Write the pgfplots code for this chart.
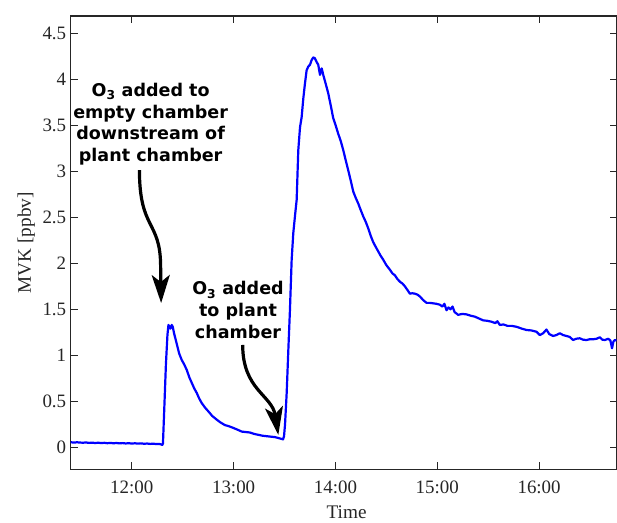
\documentclass[border=0pt]{standalone}
\usepackage{fontspec}
\setmainfont{Liberation Serif}
\newfontfamily\annfont{DejaVu Sans}
\usepackage{pgfplots}
\usepackage{pgfplotstable}
\pgfplotsset{compat=1.18}
\usetikzlibrary{arrows.meta}
\definecolor{axgray}{rgb}{0.15,0.15,0.15}

% MVK mixing ratio, time in decimal hours
\pgfplotstableread{
t v
11.400 0.055
11.430 0.050
11.460 0.054
11.490 0.051
11.520 0.049
11.550 0.052
11.580 0.047
11.610 0.050
11.640 0.046
11.670 0.049
11.700 0.045
11.730 0.048
11.760 0.044
11.790 0.047
11.820 0.043
11.850 0.046
11.880 0.042
11.910 0.045
11.940 0.041
11.970 0.044
12.000 0.040
12.030 0.043
12.060 0.039
12.090 0.042
12.120 0.038
12.150 0.040
12.180 0.036
12.210 0.039
12.240 0.034
12.270 0.036
12.290 0.030
12.300 0.025
12.306 0.040
12.320 0.45
12.335 0.90
12.350 1.22
12.360 1.33
12.370 1.31
12.380 1.29
12.392 1.33
12.402 1.31
12.415 1.24
12.440 1.13
12.465 1.02
12.490 0.95
12.515 0.90
12.540 0.84
12.565 0.76
12.589 0.70
12.613 0.64
12.638 0.59
12.662 0.53
12.687 0.48
12.720 0.43
12.752 0.39
12.790 0.34
12.834 0.30
12.870 0.27
12.916 0.24
12.950 0.23
12.997 0.21
13.040 0.19
13.080 0.17
13.120 0.165
13.161 0.16
13.200 0.145
13.243 0.135
13.285 0.125
13.325 0.12
13.365 0.115
13.406 0.11
13.440 0.10
13.472 0.09
13.485 0.085
13.495 0.12
13.505 0.25
13.521 0.59
13.537 1.05
13.553 1.49
13.570 2.04
13.586 2.33
13.603 2.52
13.619 2.69
13.635 3.23
13.652 3.48
13.668 3.59
13.685 3.80
13.701 3.96
13.717 4.10
13.733 4.14
13.750 4.16
13.766 4.21
13.782 4.24
13.798 4.23
13.815 4.19
13.831 4.16
13.848 4.05
13.865 4.12
13.880 4.05
13.905 3.95
13.929 3.85
13.955 3.71
13.978 3.58
14.002 3.50
14.027 3.41
14.052 3.33
14.077 3.23
14.101 3.12
14.126 3.01
14.150 2.90
14.175 2.78
14.200 2.71
14.224 2.65
14.248 2.58
14.273 2.51
14.298 2.45
14.322 2.38
14.346 2.30
14.371 2.23
14.395 2.18
14.420 2.13
14.445 2.08
14.469 2.04
14.500 1.98
14.535 1.93
14.560 1.89
14.584 1.87
14.608 1.83
14.633 1.80
14.658 1.78
14.682 1.75
14.707 1.71
14.731 1.67
14.755 1.675
14.780 1.67
14.805 1.66
14.829 1.64
14.862 1.60
14.895 1.57
14.928 1.57
14.960 1.565
14.992 1.56
15.025 1.55
15.050 1.53
15.070 1.56
15.091 1.49
15.110 1.52
15.130 1.50
15.150 1.53
15.170 1.47
15.205 1.44
15.245 1.45
15.287 1.445
15.330 1.43
15.369 1.42
15.410 1.40
15.450 1.38
15.490 1.375
15.532 1.365
15.570 1.35
15.590 1.37
15.614 1.33
15.650 1.335
15.690 1.32
15.730 1.32
15.778 1.31
15.830 1.29
15.876 1.275
15.925 1.27
15.974 1.256
16.007 1.22
16.040 1.24
16.072 1.28
16.100 1.23
16.137 1.21
16.170 1.22
16.203 1.24
16.235 1.22
16.269 1.21
16.300 1.20
16.334 1.166
16.365 1.18
16.399 1.185
16.430 1.17
16.465 1.166
16.500 1.175
16.530 1.174
16.565 1.18
16.596 1.196
16.620 1.17
16.645 1.166
16.680 1.18
16.700 1.16
16.716 1.076
16.730 1.15
16.743 1.166
16.760 1.16
}\mvk

\begin{document}
\begin{tikzpicture}
\begin{axis}[
    at={(0,0)}, anchor=south west, scale only axis,
    width=545.8bp, height=453.3bp,
    xmin=11.40, xmax=16.76, ymin=-0.24, ymax=4.69,
    xtick={12,13,14,15,16},
    xticklabels={12:00,13:00,14:00,15:00,16:00},
    ytick={0,0.5,1,1.5,2,2.5,3,3.5,4,4.5},
    tick align=inside, major tick length=7bp,
    axis line style={axgray, line width=1.1bp},
    tick style={axgray, line width=0.9bp},
    ticklabel style={font=\fontsize{19}{22}\selectfont, text=axgray},
    xticklabel shift=8bp,
    yticklabel shift=1bp,
    /pgf/number format/assume math mode=true,
    label style={font=\fontsize{19.3}{22}\selectfont, text=axgray},
    xlabel={Time}, ylabel={MVK [ppbv]},
    xlabel style={at={(axis description cs:0.5,0)}, anchor=north, yshift=-32.5bp, xshift=3bp},
    ylabel style={at={(axis description cs:-0.0592,0.5)}, anchor=south},
]
\addplot[blue, line width=2.2bp, line join=round] table[x=t, y=v] {\mvk};

\node[font=\annfont\bfseries\fontsize{17.6}{21.7}\selectfont, align=center]
    at (axis cs:12.185,3.512) {O\textsubscript{3} added to\\empty chamber\\downstream of\\plant chamber};
\draw[line width=3.2bp, -{Stealth[length=28bp,width=18bp,inset=7bp]}]
    (axis cs:12.075,3.014) .. controls (axis cs:12.075,2.362) and (axis cs:12.278,2.471)
    .. (axis cs:12.283,1.981) -- (axis cs:12.288,1.568);

\node[font=\annfont\bfseries\fontsize{17.6}{21.7}\selectfont, align=center]
    at (axis cs:13.043,1.492) {O\textsubscript{3} added\\to plant\\chamber};
\draw[line width=3.2bp, -{Stealth[length=28bp,width=18bp,inset=7bp]}]
    (axis cs:13.089,1.112) .. controls (axis cs:13.089,0.623) and (axis cs:13.377,0.568)
    .. (axis cs:13.439,0.134);
\end{axis}
\pgfresetboundingbox
\path[use as bounding box] (-70.7bp,-53.7bp) rectangle (546.3bp,469.3bp);
\end{tikzpicture}
\end{document}
